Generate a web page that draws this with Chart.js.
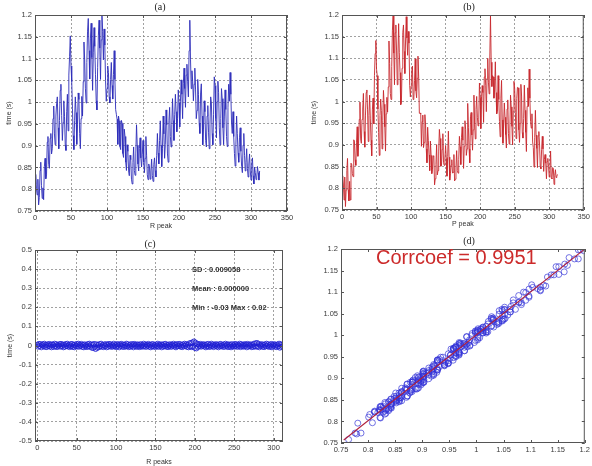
<!DOCTYPE html>
<html>
<head>
<meta charset="utf-8">
<script src="https://cdn.jsdelivr.net/npm/chart.js@4.4.1/dist/chart.umd.min.js"></script>
<style>
body { margin: 0; background: #fff; }
#fig { position: relative; width: 592px; height: 466px; overflow: hidden; font-family: "Liberation Sans", Arial, sans-serif; }
canvas { position: absolute; }
.lbl { position: absolute; white-space: nowrap; transform: translateY(-50%); }
.ttl { font-family: "Liberation Serif", serif; font-size: 10px; color: #222; transform: translate(-50%, -50%); }
.stat { font-size: 7.5px; font-weight: bold; color: #333; }
</style>
</head>
<body>
<div id="fig">
  <canvas id="cA" width="296" height="232" style="left:0;top:0"></canvas>
  <canvas id="cB" width="296" height="232" style="left:296px;top:0"></canvas>
  <canvas id="cC" width="296" height="233" style="left:0;top:233px"></canvas>
  <canvas id="cD" width="296" height="233" style="left:296px;top:233px"></canvas>
  <div class="lbl ttl" style="left:160px;top:6px">(a)</div>
  <div class="lbl ttl" style="left:469px;top:6px">(b)</div>
  <div class="lbl ttl" style="left:150px;top:243px">(c)</div>
  <div class="lbl ttl" style="left:469px;top:240px">(d)</div>
  <div class="lbl stat" style="left:192px;top:269px">SD : 0.009058</div>
  <div class="lbl stat" style="left:192px;top:288px">Mean : 0.000000</div>
  <div class="lbl stat" style="left:192px;top:307px">Min : -0.03 Max : 0.02</div>
  <div class="lbl" style="left:376px;top:257px;font-size:20px;color:#cc2a2a">Corrcoef = 0.9951</div>
</div>
<script>
// RR intervals, one per R peak
const rPeakTime = [
  0.812, 0.834, 0.801, 0.787, 0.823, 0.764, 0.781, 0.843, 0.862, 0.808,
  0.779, 0.803, 0.776, 0.852, 0.871, 0.824, 0.833, 0.908, 0.921, 0.857,
  0.848, 0.917, 0.928, 0.881, 0.893, 0.962, 0.991, 0.927, 0.902, 0.968,
  0.996, 1.012, 0.941, 0.893, 0.958, 1.027, 1.041, 0.969, 0.912, 0.953,
  1.003, 0.967, 0.902, 0.889, 0.978, 1.018, 0.934, 1.062, 1.104, 1.152,
  1.083, 1.047, 0.986, 0.923, 0.891, 0.958, 1.012, 0.976, 0.903, 0.948,
  1.021, 1.006, 0.928, 0.893, 0.962, 1.013, 0.968, 1.047, 1.138, 1.097,
  1.032, 0.998, 1.091, 1.163, 1.192, 1.118, 1.053, 1.147, 1.181, 1.102,
  1.027, 1.113, 1.171, 1.128, 1.064, 1.003, 0.982, 1.079, 1.152, 1.188,
  1.124, 1.052, 1.143, 1.198, 1.162, 1.097, 1.168, 1.131, 1.049, 1.002,
  1.031, 1.083, 1.068, 1.012, 0.998, 1.052, 1.091, 1.038, 1.007, 1.063,
  1.118, 1.052, 0.983, 0.972, 0.961, 0.903, 0.968, 0.957, 0.898, 0.891,
  0.958, 0.951, 0.882, 0.873, 0.938, 0.921, 0.862, 0.843, 0.902, 0.887,
  0.842, 0.831, 0.878, 0.868, 0.823, 0.812, 0.861, 0.897, 0.843, 0.832,
  0.881, 0.948, 0.901, 0.858, 0.842, 0.893, 0.918, 0.872, 0.851, 0.879,
  0.912, 0.862, 0.838, 0.871, 0.921, 0.878, 0.833, 0.822, 0.858, 0.851,
  0.823, 0.842, 0.869, 0.831, 0.818, 0.857, 0.872, 0.843, 0.828, 0.877,
  0.928, 0.883, 0.858, 0.912, 0.957, 0.901, 0.852, 0.893, 0.968, 0.927,
  0.871, 0.903, 0.982, 0.948, 0.881, 0.862, 0.957, 0.988, 0.921, 0.897,
  0.948, 1.008, 0.958, 0.912, 0.971, 1.018, 0.978, 0.932, 0.962, 1.028,
  0.998, 0.943, 1.002, 1.051, 1.018, 0.962, 1.042, 1.078, 1.031, 0.988,
  1.062, 1.087, 1.048, 1.012, 1.118, 1.188, 1.097, 1.031, 1.072, 1.048,
  1.003, 1.041, 1.078, 1.028, 0.962, 0.981, 1.052, 1.018, 0.952, 0.928,
  1.021, 1.042, 0.968, 0.902, 0.938, 1.003, 0.978, 0.912, 0.897, 0.968,
  0.992, 0.931, 0.893, 0.948, 1.012, 0.998, 0.928, 0.902, 0.971, 1.058,
  1.038, 0.962, 0.918, 1.001, 1.048, 1.022, 0.941, 0.902, 0.962, 1.031,
  1.008, 0.941, 0.902, 0.968, 1.028, 0.983, 0.921, 0.898, 0.987, 1.041,
  1.002, 1.068, 1.018, 0.952, 0.928, 0.978, 0.921, 0.882, 0.853, 0.902,
  0.968, 0.928, 0.883, 0.862, 0.918, 0.941, 0.887, 0.852, 0.838, 0.901,
  0.928, 0.878, 0.842, 0.861, 0.893, 0.848, 0.828, 0.858, 0.881, 0.842,
  0.821, 0.858, 0.872, 0.831, 0.812, 0.851, 0.838, 0.822, 0.828, 0.852,
  0.838, 0.821, 0.842
];

// PP intervals
const pPeakTime = [
  0.824, 0.829, 0.810, 0.773, 0.826, 0.758, 0.796, 0.841, 0.869, 0.797,
  0.771, 0.816, 0.773, 0.858, 0.856, 0.834, 0.827, 0.912, 0.909, 0.866,
  0.853, 0.905, 0.942, 0.874, 0.903, 0.959, 0.999, 0.914, 0.904, 0.959,
  0.983, 1.019, 0.931, 0.895, 0.969, 1.021, 1.027, 0.981, 0.908, 0.968,
  1.015, 0.962, 0.911, 0.875, 0.981, 1.008, 0.949, 1.060, 1.111, 1.141,
  1.075, 1.060, 0.983, 0.929, 0.876, 0.968, 1.006, 0.980, 0.891, 0.957,
  1.026, 0.994, 0.942, 0.886, 0.972, 1.010, 0.976, 1.034, 1.140, 1.088,
  1.019, 1.005, 1.081, 1.165, 1.198, 1.112, 1.039, 1.159, 1.177, 1.117,
  1.039, 1.108, 1.180, 1.114, 1.067, 0.993, 0.997, 1.077, 1.159, 1.177,
  1.116, 1.065, 1.140, 1.196, 1.147, 1.107, 1.162, 1.135, 1.037, 1.011,
  1.036, 1.071, 1.082, 1.005, 1.008, 1.049, 1.099, 1.025, 1.009, 1.054,
  1.105, 1.059, 0.973, 0.974, 0.972, 0.897, 0.954, 0.969, 0.894, 0.906,
  0.970, 0.946, 0.891, 0.859, 0.941, 0.911, 0.877, 0.841, 0.909, 0.876,
  0.834, 0.844, 0.875, 0.874, 0.808, 0.822, 0.855, 0.901, 0.831, 0.841,
  0.886, 0.936, 0.915, 0.851, 0.852, 0.890, 0.926, 0.859, 0.853, 0.870,
  0.899, 0.869, 0.828, 0.873, 0.932, 0.872, 0.819, 0.834, 0.854, 0.866,
  0.835, 0.837, 0.878, 0.817, 0.821, 0.847, 0.887, 0.841, 0.835, 0.866,
  0.920, 0.896, 0.855, 0.918, 0.942, 0.911, 0.846, 0.897, 0.956, 0.936,
  0.876, 0.891, 0.996, 0.941, 0.891, 0.859, 0.965, 0.975, 0.923, 0.888,
  0.935, 1.015, 0.948, 0.914, 0.982, 1.012, 0.964, 0.944, 0.958, 1.043,
  1.010, 0.938, 1.011, 1.037, 1.021, 0.952, 1.057, 1.076, 1.038, 0.977,
  1.054, 1.100, 1.045, 1.018, 1.103, 1.198, 1.091, 1.035, 1.060, 1.057,
  1.008, 1.029, 1.092, 1.021, 0.972, 0.978, 1.060, 1.005, 0.954, 0.919,
  1.008, 1.049, 0.958, 0.904, 0.949, 0.997, 0.964, 0.924, 0.893, 0.983,
  1.004, 0.926, 0.902, 0.934, 1.015, 0.988, 0.943, 0.900, 0.978, 1.047,
  1.030, 0.975, 0.915, 1.007, 1.033, 1.032, 0.935, 0.906, 0.950, 1.040,
  1.013, 0.929, 0.916, 0.961, 1.038, 0.980, 0.929, 0.885, 0.989, 1.032,
  0.989, 1.075, 1.008, 0.954, 0.939, 0.972, 0.907, 0.894, 0.849, 0.917,
  0.980, 0.923, 0.892, 0.848, 0.921, 0.931, 0.902, 0.850, 0.845, 0.890,
  0.920, 0.891, 0.839, 0.867, 0.878, 0.858, 0.822, 0.862, 0.869, 0.851,
  0.826, 0.846, 0.886, 0.824, 0.822, 0.848, 0.846, 0.809, 0.830, 0.843,
  0.825, 0.828, 0.832
];

// differences
const peakDiff = [
  0.004, -0.006, 0.008, -0.003, 0.007, -0.009, 0.002, 0.006, -0.004, 0.009,
  -0.007, 0.003, -0.008, 0.005, -0.002, 0.008, -0.005, 0.004, -0.009, 0.006,
  0.002, -0.007, 0.009, -0.004, 0.006, -0.008, 0.003, -0.002, 0.007, -0.006,
  0.008, -0.003, 0.005, -0.009, 0.004, -0.006, 0.007, -0.002, 0.009, -0.005,
  0.003, -0.008, 0.006, -0.004, 0.008, -0.007, 0.002, -0.009, 0.005, -0.003,
  0.007, -0.005, 0.009, -0.006, 0.004, -0.002, 0.008, -0.007, 0.003, -0.009,
  0.006, -0.004, 0.002, -0.008, 0.007, -0.003, 0.009, -0.006, 0.005, -0.011,
  0.004, -0.013, 0.008, -0.007, -0.018, 0.006, -0.012, 0.003, -0.009, 0.007,
  -0.004, 0.009, -0.006, 0.002, -0.008, 0.005, -0.003, 0.007, -0.009, 0.004,
  -0.006, 0.008, -0.002, 0.006, -0.007, 0.003, -0.005, 0.009, -0.004, 0.002,
  -0.008, 0.007, -0.003, 0.005, -0.009, 0.006, -0.002, 0.008, -0.006, 0.004,
  -0.007, 0.003, -0.005, 0.009, -0.004, 0.006, -0.008, 0.002, -0.006, 0.007,
  -0.003, 0.005, -0.009, 0.008, -0.002, 0.004, -0.007, 0.006, -0.005, 0.003,
  -0.008, 0.007, -0.004, 0.002, -0.006, 0.009, -0.003, 0.005, -0.007, 0.004,
  -0.002, 0.008, -0.006, 0.003, -0.009, 0.006, -0.004, 0.007, -0.005, 0.002,
  -0.008, 0.005, -0.003, 0.009, -0.007, 0.004, -0.002, 0.006, -0.009, 0.003,
  -0.005, 0.007, -0.004, 0.008, -0.006, 0.002, -0.008, 0.005, -0.003, 0.006,
  -0.007, 0.004, -0.002, 0.009, -0.005, 0.003, -0.009, 0.007, -0.004, 0.006,
  -0.003, 0.008, -0.006, 0.002, -0.008, 0.005, -0.004, 0.009, -0.002, 0.006,
  -0.007, 0.004, -0.009, 0.011, -0.005, 0.013, -0.008, 0.016, -0.006, 0.021,
  -0.012, 0.014, -0.015, 0.009, -0.007, 0.005, -0.003, 0.008, -0.006, 0.004,
  -0.002, 0.007, -0.005, 0.003, -0.009, 0.006, -0.004, 0.008, -0.007, 0.002,
  -0.006, 0.009, -0.003, 0.005, -0.008, 0.004, -0.002, 0.007, -0.005, 0.003,
  -0.009, 0.006, -0.004, 0.008, -0.003, 0.002, -0.007, 0.005, -0.006, 0.009,
  -0.002, 0.004, -0.008, 0.006, -0.005, 0.003, -0.009, 0.007, -0.004, 0.002,
  -0.006, 0.008, -0.003, 0.005, -0.007, 0.004, -0.002, 0.009, -0.008, 0.006,
  -0.004, 0.003, -0.006, 0.007, -0.002, 0.005, -0.009, 0.008, -0.005, 0.004,
  -0.003, 0.006, -0.008, 0.002, -0.007, 0.009, -0.004, 0.011, -0.006, 0.013,
  -0.005, 0.008, -0.009, 0.004, -0.002, 0.007, -0.006, 0.003, -0.008, 0.005,
  -0.004, 0.009, -0.003, 0.006, -0.007, 0.002, -0.005, 0.008, -0.009, 0.004,
  -0.002, 0.007, -0.006, 0.003, -0.008, 0.005, -0.004, 0.009, -0.011, 0.006,
  -0.007, 0.004, -0.005
];

// regression line of panel (d)
const fitLineX = [0.755, 1.2];
const fitLineY = [0.757, 1.2];

// tick labels
const peakTicks = [0, 50, 100, 150, 200, 250, 300, 350];
const peaksTicksC = [0, 50, 100, 150, 200, 250, 300];
const timeTicks = [0.75, 0.8, 0.85, 0.9, 0.95, 1, 1.05, 1.1, 1.15, 1.2];
const diffTicks = [-0.5, -0.4, -0.3, -0.2, -0.1, 0, 0.1, 0.2, 0.3, 0.4, 0.5];

const tickFont = { family: 'Liberation Sans', size: 7.5 };
const titleFont = { family: 'Liberation Sans', size: 7 };

// box round the plot plus small inward ticks, matlab style
const framePlugin = {
  id: 'frame',
  afterDraw(chart) {
    const { ctx, chartArea: a, scales } = chart;
    ctx.save();
    ctx.strokeStyle = '#555';
    ctx.lineWidth = 1;
    ctx.strokeRect(a.left + 0.5, a.top + 0.5, a.right - a.left - 1, a.bottom - a.top - 1);
    ctx.beginPath();
    scales.x.ticks.forEach(t => {
      const px = Math.round(scales.x.getPixelForValue(t.value)) + 0.5;
      ctx.moveTo(px, a.top); ctx.lineTo(px, a.top + 3);
      ctx.moveTo(px, a.bottom); ctx.lineTo(px, a.bottom - 3);
    });
    scales.y.ticks.forEach(t => {
      const py = Math.round(scales.y.getPixelForValue(t.value)) + 0.5;
      ctx.moveTo(a.left, py); ctx.lineTo(a.left + 3, py);
      ctx.moveTo(a.right, py); ctx.lineTo(a.right - 3, py);
    });
    ctx.stroke();
    ctx.restore();
  }
};

function fmt(v) {
  return String(+v.toFixed(2));
}

function xAxis(min, max, ticks, title, titlePad, height, grid) {
  return {
    type: 'linear', min: min, max: max,
    afterBuildTicks: s => { s.ticks = ticks.map(v => ({ value: v })); },
    afterFit: s => { s.height = height; },
    ticks: { font: tickFont, color: '#3a3a3a', padding: 2, maxRotation: 0, autoSkip: false, callback: fmt },
    grid: { display: grid, drawTicks: false, color: '#8a8a8a', lineWidth: 0.8 },
    border: { display: false, dash: [2, 2] },
    title: { display: !!title, text: title, font: titleFont, color: '#333', padding: { top: 0, bottom: titlePad } }
  };
}

function yAxis(min, max, ticks, title, titlePad, width, grid) {
  return {
    type: 'linear', min: min, max: max,
    afterBuildTicks: s => { s.ticks = ticks.map(v => ({ value: v })); },
    afterFit: s => { s.width = width; },
    ticks: { font: tickFont, color: '#3a3a3a', padding: 3, autoSkip: false, callback: fmt },
    grid: { display: grid, drawTicks: false, color: '#8a8a8a', lineWidth: 0.8 },
    border: { display: false, dash: [2, 2] },
    title: { display: !!title, text: title, font: titleFont, color: '#333', padding: { top: titlePad, bottom: 0 } }
  };
}

function makeChart(id, datasets, scales, padding) {
  new Chart(document.getElementById(id), {
    type: 'scatter',
    data: { datasets: datasets },
    options: {
      responsive: false,
      animation: false,
      layout: { padding: padding },
      plugins: { legend: { display: false }, tooltip: { enabled: false } },
      scales: scales
    },
    plugins: [framePlugin]
  });
}

// (a) RR series
makeChart('cA', [{
  type: 'line',
  data: rPeakTime.map((v, i) => ({ x: i, y: v })),
  borderColor: 'rgba(45,45,185,0.9)', borderWidth: 1, pointRadius: 0, tension: 0
}], {
  x: xAxis(0, 350, peakTicks, 'R peak', 1.5, 21, true),
  y: yAxis(0.75, 1.2, timeTicks, 'time (s)', 4.8, 35, true)
}, { top: 15, right: 9, left: 0, bottom: 0 });

// (b) PP series
makeChart('cB', [{
  type: 'line',
  data: pPeakTime.map((v, i) => ({ x: i, y: v })),
  borderColor: 'rgba(200,40,45,0.9)', borderWidth: 1, pointRadius: 0, tension: 0
}], {
  x: xAxis(0, 350, peakTicks, 'P peak', 3.5, 22, true),
  y: yAxis(0.75, 1.2, timeTicks, 'time (s)', 13.8, 46, true)
}, { top: 15, right: 6, left: 0, bottom: 0 });

// (c) differences
makeChart('cC', [{
  data: peakDiff.map((v, i) => ({ x: i, y: v })),
  pointStyle: 'circle', pointRadius: 2.6, borderWidth: 0.9,
  borderColor: 'rgba(30,30,210,0.9)', backgroundColor: 'rgba(0,0,0,0)'
}], {
  x: xAxis(-3, 312, peaksTicksC, 'R peaks', 0, 25, true),
  y: yAxis(-0.5, 0.5, diffTicks, 'time (s)', 5.5, 35, true)
}, { top: 17, right: 13, left: 0, bottom: 0 });

// (d) correlation RR vs PP
makeChart('cD', [{
  type: 'line',
  data: fitLineX.map((v, i) => ({ x: v, y: fitLineY[i] })),
  borderColor: '#b0203c', borderWidth: 1.1, pointRadius: 0
}, {
  data: rPeakTime.map((v, i) => ({ x: v, y: pPeakTime[i] })),
  pointStyle: 'circle', pointRadius: 3, borderWidth: 0.8,
  borderColor: 'rgba(50,50,215,0.85)', backgroundColor: 'rgba(0,0,0,0)'
}], {
  x: xAxis(0.75, 1.2, timeTicks, '', 0, 23, false),
  y: yAxis(0.75, 1.2, timeTicks, '', 0, 45, false)
}, { top: 16, right: 4, left: 0, bottom: 0 });
</script>
</body>
</html>
